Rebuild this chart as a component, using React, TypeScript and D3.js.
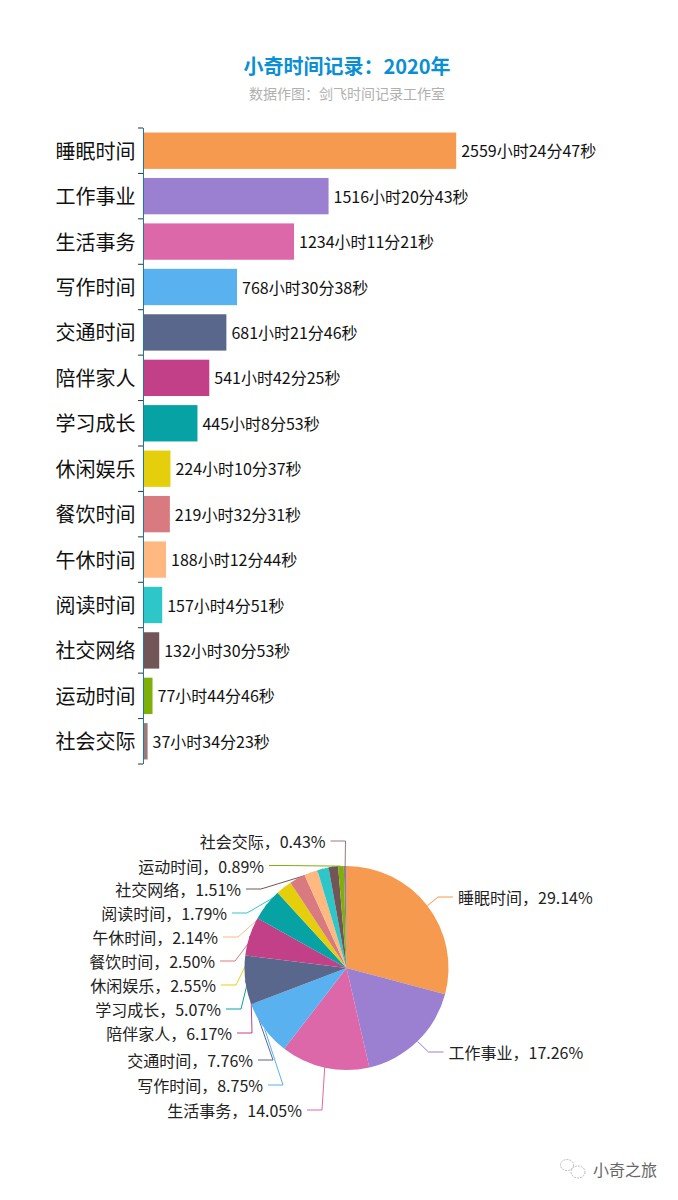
import React from "react";
import * as d3 from "d3";

const categories = ["睡眠时间","工作事业","生活事务","写作时间","交通时间","陪伴家人","学习成长","休闲娱乐","餐饮时间","午休时间","阅读时间","社交网络","运动时间","社会交际"];
const hours = [2559,1516,1234,768,681,541,445,224,219,188,157,132,77,37];
const minutes = [24,20,11,30,21,42,8,10,32,12,4,30,44,34];
const seconds = [47,43,21,38,46,25,53,37,31,44,51,53,46,23];
const percents = ["29.14","17.26","14.05","8.75","7.76","6.17","5.07","2.55","2.50","2.14","1.79","1.51","0.89","0.43"];
const colors = ["#f59a4f","#9b7fd1","#dd68a9","#5ab1ef","#5a678d","#c24088","#07a2a4","#e5cf0d","#d87a80","#ffb980","#2ec7c9","#725556","#7eb00a","#9d7a7a"];
// label anchor: y of the text, and x of the text edge nearest the pie
const labelY = [897,1052,1110,1085,1060,1033,1009,985,961,937,913,889,865.5,841];
const labelX = [458,448.5,302,263,253,232,221,216,215,218,227,241,264,325.5];

const FONT = "'Noto Sans CJK SC','Noto Sans',sans-serif";
const values = hours.map((h, i) => h + minutes[i] / 60 + seconds[i] / 3600);

const barX = d3.scaleLinear().domain([0, 2559.41]).range([143, 456.2]);
const barY = d3.scaleBand<string>().domain(categories).range([128, 764]).paddingInner(0.2).paddingOuter(0.1);
const tickYs = d3.range(categories.length + 1).map((i) => 128 + (i * 636) / categories.length);

const cx = 346.5, cy = 968, R = 102;
const pieGen = d3.pie<number>().sort(null).startAngle(0).endAngle(2 * Math.PI);
const arcs = pieGen(values);
const arcGen = d3.arc<d3.PieArcDatum<number>>().innerRadius(0).outerRadius(R);

export default function App() {
  return (
    <svg width={678} height={1200} style={{ position: "absolute", left: 0, top: 0, background: "#fff", fontFamily: FONT }}>
      <text x={347} y={74} textAnchor="middle" fontSize={20} fontWeight={700} fill="#0a8fd4">小奇时间记录：2020年</text>
      <text x={347} y={98.5} textAnchor="middle" fontSize={14} fill="#b0b0b0">数据作图：剑飞时间记录工作室</text>

      {tickYs.map((y, i) => (
        <line key={i} x1={138} x2={143} y1={y} y2={y} stroke="#333" strokeWidth={1} />
      ))}
      {categories.map((c, i) => {
        const y = barY(c)!;
        const bw = barY.bandwidth();
        return (
          <g key={c}>
            <rect x={143} y={y} width={barX(values[i]) - 143} height={bw} fill={colors[i]} />
            <text x={135.5} y={y + bw / 2 + 8} textAnchor="end" fontSize={20} fill="#111">{c}</text>
            <text x={barX(values[i]) + 5} y={y + bw / 2 + 6.5} fontSize={16} fill="#111">
              {`${hours[i]}小时${minutes[i]}分${seconds[i]}秒`}
            </text>
          </g>
        );
      })}
      <line x1={143.5} x2={143.5} y1={128} y2={764} stroke="#1f77a8" strokeWidth={1} />

      {arcs.map((a, i) => {
        const mid = (a.startAngle + a.endAngle) / 2;
        const right = mid < Math.PI;
        const px = cx + R * Math.sin(mid);
        const py = cy - R * Math.cos(mid);
        const gap = 5;
        const tx = labelX[i];
        const x0 = right ? tx - gap : tx + gap;
        const x1 = right ? x0 - 15 : x0 + 15;
        const pts = `${px},${py} ${x1},${labelY[i]} ${x0},${labelY[i]}`;
        return (
          <g key={i}>
            <polyline points={pts} fill="none" stroke={colors[i]} strokeWidth={1} />
            <text x={tx} y={labelY[i] + 7} textAnchor={right ? "start" : "end"} fontSize={16} fill="#222">
              {`${categories[i]}，${percents[i]}%`}
            </text>
          </g>
        );
      })}
      <g transform={`translate(${cx},${cy})`}>
        {arcs.map((a, i) => (
          <path key={i} d={arcGen(a)!} fill={colors[i]} />
        ))}
      </g>

      <g fill="none" stroke="#aaa" strokeWidth={0.8} strokeDasharray="2 1">
        <ellipse cx={567} cy={1165} rx={6.5} ry={5.5} />
        <ellipse cx={578} cy={1172} rx={7} ry={6} fill="#fff" />
      </g>
      <text x={593} y={1176} fontSize={16} fill="#666">小奇之旅</text>
    </svg>
  );
}
